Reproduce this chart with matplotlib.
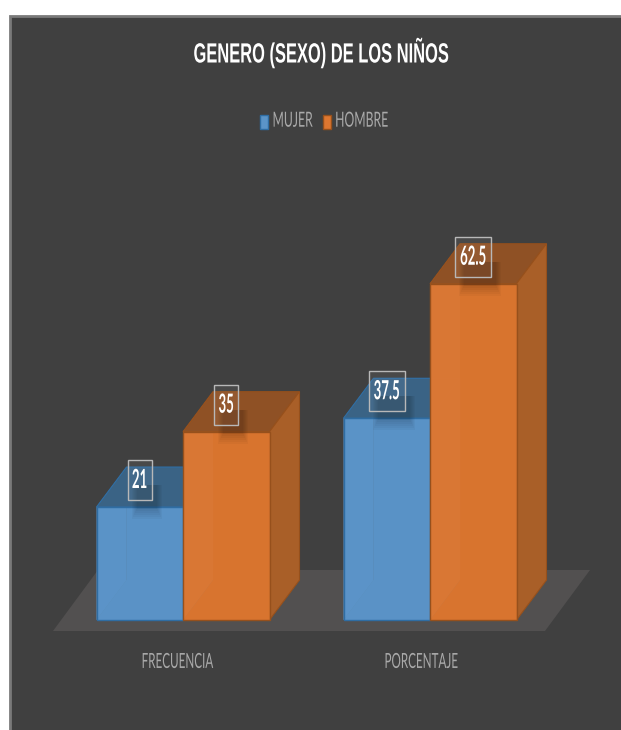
import matplotlib
matplotlib.use("Agg")
import matplotlib.pyplot as plt
from matplotlib.patches import Polygon, Rectangle, Patch
from matplotlib.patheffects import AbstractPathEffect
from matplotlib.transforms import Affine2D

categories = ["FRECUENCIA", "PORCENTAJE"]
mujer = [21, 37.5]
hombre = [35, 62.5]
value_labels_m = ["21", "37.5"]
value_labels_h = ["35", "62.5"]

W, H = 621, 730
PX_X = 247.0        # pixels per category step
PX_Y = 5.38         # pixels per value unit
AX_L, AX_R, AX_B, AX_T = 53, 590, 620, 200

plt.rcParams['font.family'] = ['Lato', 'DejaVu Sans']


class Squeeze(AbstractPathEffect):
    """Reshapes glyphs, as in the vertically stretched reference."""
    def __init__(self, sx, sy=1.0, anchor='center'):
        super().__init__()
        self.sx, self.sy, self.anchor = sx, sy, anchor

    def draw_path(self, renderer, gc, tpath, affine, rgbFace=None):
        ext = tpath.get_extents()
        cx = (ext.x0 + ext.x1) / 2 if self.anchor == 'center' else ext.x0
        t = Affine2D().translate(-cx, 0).scale(self.sx, self.sy).translate(cx, 0)
        renderer.draw_path(gc, tpath, t + affine, rgbFace)


fig = plt.figure(figsize=(W / 100, H / 100), dpi=100, facecolor='white')
fig.add_artist(Rectangle((10 / W, -0.01), (W + 10) / W, (730 - 16) / H + 0.01, transform=fig.transFigure,
                         facecolor='#404040', edgecolor='#7a7a7a', linewidth=2, zorder=-5))

ax = fig.add_axes([AX_L / W, 1 - AX_B / H, (AX_R - AX_L) / W, (AX_B - AX_T) / H])
ax.patch.set_visible(False)
ax.set_xlim((AX_L - 183) / PX_X, (AX_R - 183) / PX_X)
ax.set_ylim(0, (AX_B - AX_T) / PX_Y)
for s in ax.spines.values():
    s.set_visible(False)

dx, dy = 30 / PX_X, 40 / PX_Y   # depth of the 3-D projection
bw = 86.5 / PX_X


def px(xp, yp):
    return (xp - 183) / PX_X, (AX_B - yp) / PX_Y


# floor
ax.add_patch(Polygon([px(53, 631), px(545, 631), px(590, 570), px(98, 570)], closed=True,
                     facecolor='#525050', edgecolor='none', clip_on=False, zorder=1))


def box(x0, v, front, top, side, back, left, edge, z):
    x1 = x0 + bw
    # rear faces, seen through the translucent front
    ax.add_patch(Polygon([(x0 + dx, dy), (x1 + dx, dy), (x1 + dx, v + dy), (x0 + dx, v + dy)],
                         facecolor=back, edgecolor='none', alpha=0.94, zorder=z, clip_on=False))
    ax.add_patch(Polygon([(x0, 0), (x1, 0), (x1 + dx, dy), (x0 + dx, dy)],
                         facecolor=back, edgecolor='none', alpha=0.94, zorder=z, clip_on=False))
    ax.add_patch(Polygon([(x0, 0), (x0 + dx, dy), (x0 + dx, v + dy), (x0, v)],
                         facecolor=left, edgecolor='none', alpha=0.94, zorder=z, clip_on=False))
    # top and side faces
    ax.add_patch(Polygon([(x0, v), (x1, v), (x1 + dx, v + dy), (x0 + dx, v + dy)],
                         facecolor=top, edgecolor=edge, linewidth=0.8, zorder=z + .1, clip_on=False))
    ax.add_patch(Polygon([(x1, 0), (x1 + dx, dy), (x1 + dx, v + dy), (x1, v)],
                         facecolor=side, edgecolor=edge, linewidth=0.8, zorder=z + .1, clip_on=False))
    # front face
    ax.add_patch(Polygon([(x0, 0), (x1, 0), (x1, v), (x0, v)],
                         facecolor=front, edgecolor='none', alpha=0.85, zorder=z + .2, clip_on=False))
    ax.add_patch(Polygon([(x0, 0), (x1, 0), (x1, v), (x0, v)],
                         facecolor='none', edgecolor=edge, linewidth=1.0, zorder=z + .3, clip_on=False))


def label(xc, v, txt, w_px):
    # xc: centre of the bar's front face; the label box sits on the top face
    x, y = xc, v + 27 / PX_Y
    # soft shadow falling across the label and the front edge
    for i in range(6):
        ax.add_patch(Rectangle((x - (w_px / 2 - 4 - i) / PX_X, v - (12 - 2 * i) / PX_Y),
                               (w_px + 6 - 2 * i) / PX_X, (34 - 2 * i) / PX_Y,
                               facecolor='black', edgecolor='none', alpha=0.03, zorder=9, clip_on=False))
    t = ax.text(x, y, txt, ha='center', va='center', color='white', fontsize=19, fontweight='bold',
                zorder=11, clip_on=False)
    t.set_path_effects([Squeeze(0.5)])
    ax.add_patch(Rectangle((x - w_px / 2 / PX_X, y - 20 / PX_Y), w_px / PX_X, 40 / PX_Y,
                           facecolor='white', alpha=0.05, edgecolor='none', zorder=10, clip_on=False))
    ax.add_patch(Rectangle((x - w_px / 2 / PX_X, y - 20 / PX_Y), w_px / PX_X, 40 / PX_Y,
                           facecolor='none', edgecolor='#b8b8b8', linewidth=1.0, zorder=10, clip_on=False))


BLUE = dict(front='#5b94c8', top='#3a6385', side='#3a6385', back='#5690c6', left='#5c98d0', edge='#2f6da3')
ORNG = dict(front='#d97530', top='#8f5125', side='#a95f28', back='#de7428', left='#e58a4c', edge='#96501c')

for i in range(len(categories)):
    box(i - bw, mujer[i], z=3, **BLUE)
    box(i, hombre[i], z=5, **ORNG)
for i in range(len(categories)):
    label(i - bw / 2, mujer[i], value_labels_m[i], 24 if len(value_labels_m[i]) < 3 else 36)
    label(i + bw / 2, hombre[i], value_labels_h[i], 24 if len(value_labels_h[i]) < 3 else 36)

tick_offsets_px = [-6, -9]
ax.set_xticks([i + o / PX_X for i, o in enumerate(tick_offsets_px)])
ax.set_xticklabels(categories, fontsize=15, color='#a9a9a9')
ax.tick_params(axis='x', length=0, pad=23)
for t in ax.get_xticklabels():
    t.set_path_effects([Squeeze(0.56)])
ax.set_yticks([])

title = fig.text(321 / W, 1 - 53 / H, "GENERO (SEXO) DE LOS NIÑOS", ha='center', va='center',
                 color='white', fontsize=20, fontweight='bold', family=['Liberation Sans', 'DejaVu Sans'])
title.set_path_effects([Squeeze(0.593)])

handles = [Patch(facecolor='#5b94c8', edgecolor='#2f6da3', label='MUJER'),
           Patch(facecolor='#de7730', edgecolor='#96501c', label='HOMBRE')]
leg = fig.legend(handles=handles, loc='center left', bbox_to_anchor=(260 / W, 1 - 122 / H), ncol=2, frameon=False,
                 fontsize=10, labelcolor='#a9a9a9', handlelength=0.6, handleheight=1.2,
                 handletextpad=0.29, columnspacing=0.36, borderpad=0, borderaxespad=0)
for t in leg.get_texts():
    t.set_path_effects([Squeeze(0.88, 1.5, anchor='left')])

fig.savefig('out.png', dpi=100, facecolor='white')
